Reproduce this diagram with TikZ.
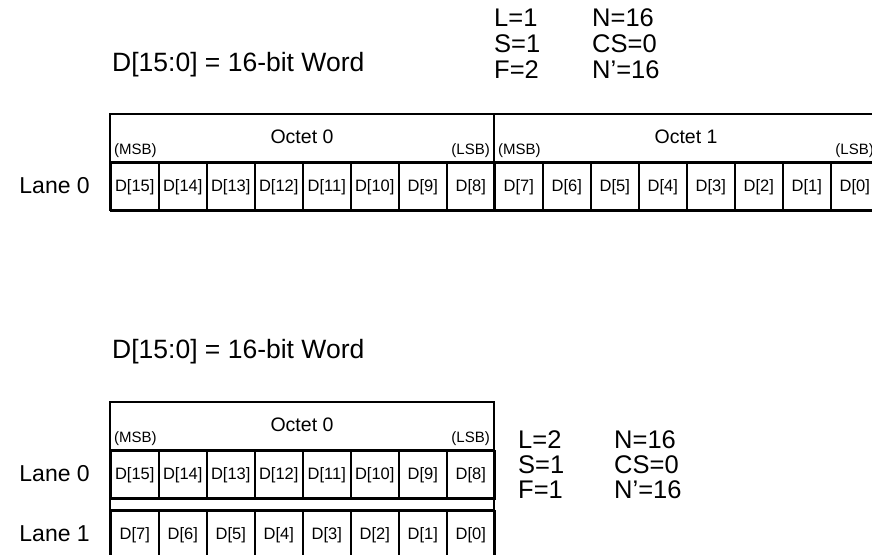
\documentclass[tikz,border=0pt]{standalone}
\usepackage{fontspec}
\setmainfont{Liberation Sans}
\begin{document}
\begin{tikzpicture}[x=1pt,y=-1pt,
  cell/.style={draw,line width=1.5pt,minimum width=48pt,minimum height=48pt,inner sep=0pt,anchor=north west,font=\fontsize{16.5}{18}\selectfont},
  frame/.style={draw,line width=2.6pt},
  big/.style={font=\fontsize{25.5}{28}\selectfont,inner sep=0pt},
  title/.style={font=\fontsize{26.5}{29}\selectfont,inner sep=0pt,anchor=west},
  lane/.style={font=\fontsize{23}{26}\selectfont,inner sep=0pt,anchor=east},
  octet/.style={font=\fontsize{19.5}{22}\selectfont,inner sep=0pt},
  msb/.style={font=\fontsize{15}{17}\selectfont,inner sep=0pt}]
\useasboundingbox (0,0) rectangle (872,554);
\clip (0,0) rectangle (872,554);
% ---------- top diagram ----------
\node[title] (t1) at (112,65) {D[15:0] = 16-bit Word};
\node[big,anchor=west] (pL) at (494,18) {L=1};
\node[big,anchor=west] (pS) at (494,44) {S=1};
\node[big,anchor=west] (pF) at (494,70) {F=2};
\node[big,anchor=west] (pN) at (592,18) {N=16};
\node[big,anchor=west] (pC) at (592,44) {CS=0};
\node[big,anchor=west] (pP) at (592,70) {N’=16};
\foreach \i in {0,...,15}{
  \pgfmathtruncatemacro{\b}{15-\i}
  \node[cell] (a\i) at ({110+48*\i},162) {D[\b]};
}
\node[octet] (o0) at (302,137) {Octet 0};
\node[octet] (o1) at (686,137) {Octet 1};
\node[msb,anchor=west] (m0) at (114,151) {(MSB)};
\node[msb,anchor=east] (l0) at (490,151) {(LSB)};
\node[msb,anchor=west] (m1) at (498,151) {(MSB)};
\node[msb,anchor=east] (l1) at (874,151) {(LSB)};
\draw[frame] (110,114) rectangle (878,210);
\draw[frame] (110,162) -- (878,162);
\draw[frame] (494,114) -- (494,210);
\node[lane] (lane0) at (90,186) {Lane 0};
% ---------- bottom diagram ----------
\node[title] (t2) at (112,352) {D[15:0] = 16-bit Word};
\foreach \i in {0,...,7}{
  \pgfmathtruncatemacro{\b}{15-\i}
  \pgfmathtruncatemacro{\c}{7-\i}
  \node[cell] (b\i) at ({110+48*\i},450) {D[\b]};
  \node[cell] (c\i) at ({110+48*\i},510) {D[\c]};
}
\node[octet] (o2) at (302,425) {Octet 0};
\node[msb,anchor=west] (m2) at (114,439) {(MSB)};
\node[msb,anchor=east] (l2) at (490,439) {(LSB)};
\draw[frame] (110,560) -- (110,402) -- (494,402) -- (494,560);
\draw[frame] (110,450) -- (494,450);
\draw[frame] (110,498) -- (494,498);
\draw[frame] (110,510) -- (494,510);
\node[lane] (lane0b) at (90,474) {Lane 0};
\node[lane] (lane1b) at (90,534) {Lane 1};
\node[big,anchor=west] (qL) at (518,440) {L=2};
\node[big,anchor=west] (qS) at (518,465) {S=1};
\node[big,anchor=west] (qF) at (518,490) {F=1};
\node[big,anchor=west] (qN) at (614,440) {N=16};
\node[big,anchor=west] (qC) at (614,465) {CS=0};
\node[big,anchor=west] (qP) at (614,490) {N’=16};
\end{tikzpicture}
\end{document}
